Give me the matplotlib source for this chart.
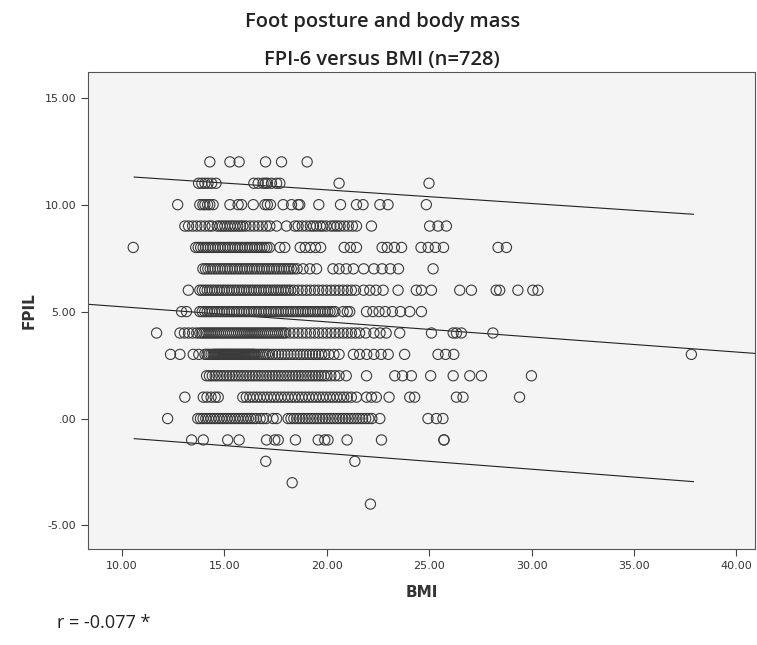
import matplotlib
matplotlib.use("Agg")
import matplotlib.pyplot as plt

# BMI values, one list per FPI score (FPIL is whole numbers)
bmi_fpi_12 = [14.29, 15.27, 15.72, 17.01, 17.79, 19.04]
bmi_fpi_11 = [13.74, 13.90, 14.05, 14.20, 14.38, 14.59, 16.44, 16.65, 16.89, 17.00,
              17.10, 17.30, 17.55, 17.71, 20.60, 24.99]
bmi_fpi_10 = [12.72, 13.80, 13.95, 14.05, 14.18, 14.29, 14.45, 15.27, 15.67, 15.84,
              16.41, 16.98, 17.10, 17.25, 17.87, 18.28, 18.60, 18.68, 19.61, 20.67,
              21.45, 21.77, 22.59, 22.99, 24.86]
bmi_fpi_9 = [13.07, 13.25, 13.45, 13.65, 13.85, 14.05, 14.25, 14.40, 14.65, 14.78,
             14.90, 15.02, 15.15, 15.28, 15.40, 15.52, 15.65, 15.78, 15.90, 16.05,
             16.25, 16.45, 16.65, 16.85, 17.05, 17.22, 17.55, 18.03, 18.44, 18.60,
             18.80, 19.00, 19.20, 19.35, 19.50, 19.68, 19.80, 19.98, 20.20, 20.35,
             20.50, 20.65, 20.85, 21.05, 21.25, 21.45, 22.18, 25.02, 25.43, 25.84]
bmi_fpi_8 = [10.55, 13.60, 13.72, 13.84, 13.96, 14.08, 14.20, 14.32, 14.44, 14.56,
             14.68, 14.80, 14.92, 15.04, 15.16, 15.28, 15.40, 15.52, 15.64, 15.76,
             15.88, 16.00, 16.12, 16.24, 16.36, 16.48, 16.60, 16.72, 16.84, 16.96,
             17.08, 17.20, 17.71, 17.95, 18.70, 18.95, 19.20, 19.45, 19.70, 20.85,
             21.15, 21.45, 22.70, 22.95, 23.30, 23.65, 24.60, 24.95, 25.30, 25.70,
             28.36, 28.77]
bmi_fpi_7 = [13.95, 14.07, 14.19, 14.31, 14.43, 14.55, 14.67, 14.79, 14.91, 15.03,
             15.15, 15.27, 15.39, 15.51, 15.63, 15.75, 15.87, 15.99, 16.11, 16.23,
             16.35, 16.47, 16.59, 16.71, 16.83, 16.95, 17.07, 17.19, 17.31, 17.43,
             17.55, 17.67, 17.79, 17.91, 18.03, 18.15, 18.27, 18.40, 18.55, 18.84,
             19.17, 19.50, 20.30, 20.60, 20.95, 21.30, 21.80, 22.30, 22.70, 23.10,
             23.50, 25.19]
bmi_fpi_6 = [13.24, 13.80, 13.92, 14.04, 14.16, 14.28, 14.40, 14.52, 14.64, 14.76,
             14.88, 15.00, 15.12, 15.24, 15.36, 15.48, 15.60, 15.72, 15.84, 15.96,
             16.08, 16.20, 16.32, 16.44, 16.56, 16.68, 16.80, 16.92, 17.04, 17.16,
             17.28, 17.40, 17.52, 17.64, 17.76, 17.88, 18.00, 18.12, 18.24, 18.40,
             18.60, 18.80, 19.00, 19.20, 19.40, 19.60, 19.80, 20.00, 20.20, 20.40,
             20.60, 20.80, 21.00, 21.20, 21.40, 21.80, 22.10, 22.40, 22.75, 23.48,
             24.37, 24.62, 25.11, 26.49, 27.06, 28.27, 28.44, 29.33, 30.06, 30.31]
bmi_fpi_5 = [12.91, 13.15, 13.80, 13.92, 14.04, 14.16, 14.28, 14.40, 14.52, 14.64,
             14.76, 14.88, 15.00, 15.12, 15.24, 15.36, 15.48, 15.60, 15.72, 15.84,
             15.96, 16.08, 16.20, 16.32, 16.44, 16.56, 16.68, 16.80, 16.92, 17.04,
             17.16, 17.28, 17.40, 17.52, 17.64, 17.76, 17.88, 18.00, 18.12, 18.24,
             18.36, 18.48, 18.60, 18.72, 18.84, 18.96, 19.08, 19.20, 19.32, 19.44,
             19.56, 19.68, 19.80, 19.92, 20.04, 20.16, 20.28, 20.40, 20.80, 21.00,
             21.12, 21.94, 22.25, 22.55, 22.85, 23.20, 23.60, 24.05, 24.62]
bmi_fpi_4 = [11.69, 12.83, 13.05, 13.25, 13.45, 13.65, 13.80, 13.90, 14.00, 14.10,
             14.20, 14.30, 14.40, 14.50, 14.60, 14.70, 14.80, 14.90, 15.00, 15.10,
             15.20, 15.30, 15.40, 15.50, 15.60, 15.70, 15.80, 15.90, 16.00, 16.10,
             16.20, 16.30, 16.40, 16.50, 16.60, 16.70, 16.80, 16.90, 17.00, 17.10,
             17.20, 17.30, 17.40, 17.50, 17.60, 17.70, 17.80, 17.90, 18.00, 18.20,
             18.40, 18.60, 18.80, 19.00, 19.20, 19.40, 19.60, 19.80, 20.00, 20.20,
             20.40, 20.60, 20.80, 21.00, 21.20, 21.40, 21.60, 21.90, 22.30, 22.60,
             22.90, 23.56, 25.11, 26.17, 26.33, 26.57, 28.11]
bmi_fpi_3 = [12.37, 12.83, 13.48, 13.75, 14.05, 14.15, 14.25, 14.35, 14.45, 14.50,
             14.55, 14.60, 14.65, 14.70, 14.75, 14.80, 14.85, 14.90, 14.95, 15.00,
             15.05, 15.10, 15.15, 15.20, 15.25, 15.30, 15.35, 15.40, 15.45, 15.50,
             15.55, 15.60, 15.65, 15.70, 15.75, 15.80, 15.85, 15.90, 15.95, 16.00,
             16.05, 16.10, 16.15, 16.20, 16.25, 16.30, 16.35, 16.40, 16.45, 16.50,
             16.60, 16.70, 16.80, 16.90, 17.00, 17.10, 17.20, 17.35, 17.50, 17.65,
             17.80, 17.95, 18.10, 18.25, 18.40, 18.55, 18.70, 18.85, 19.00, 19.15,
             19.30, 19.45, 19.60, 19.75, 19.90, 20.10, 20.35, 20.60, 21.30, 21.60,
             21.95, 22.30, 22.65, 23.00, 23.80, 25.43, 25.80, 26.20, 37.80]
bmi_fpi_2 = [14.13, 14.27, 14.41, 14.55, 14.69, 14.83, 14.97, 15.11, 15.25, 15.39,
             15.53, 15.67, 15.81, 15.95, 16.09, 16.23, 16.37, 16.51, 16.65, 16.79,
             16.93, 17.07, 17.21, 17.35, 17.49, 17.63, 17.77, 17.91, 18.05, 18.19,
             18.33, 18.47, 18.61, 18.75, 18.89, 19.03, 19.17, 19.31, 19.45, 19.59,
             19.73, 19.87, 20.01, 20.20, 20.40, 20.60, 20.95, 21.94, 23.32, 23.70,
             24.13, 25.07, 26.17, 26.98, 27.55, 29.99]
bmi_fpi_1 = [13.07, 13.97, 14.15, 14.35, 14.55, 14.70, 15.90, 16.07, 16.24, 16.41,
             16.58, 16.75, 16.92, 17.09, 17.26, 17.43, 17.60, 17.77, 17.94, 18.11,
             18.28, 18.45, 18.62, 18.79, 18.96, 19.13, 19.30, 19.47, 19.64, 19.81,
             19.98, 20.15, 20.32, 20.49, 20.66, 20.83, 21.00, 21.20, 21.45, 21.94,
             22.18, 22.42, 23.04, 24.05, 24.29, 26.33, 26.65, 29.41]
bmi_fpi_0 = [12.23, 13.70, 13.83, 13.96, 14.09, 14.22, 14.35, 14.48, 14.61, 14.74,
             14.87, 15.00, 15.13, 15.26, 15.39, 15.52, 15.65, 15.78, 15.91, 16.04,
             16.17, 16.30, 16.43, 16.56, 16.75, 16.90, 17.05, 17.38, 17.55, 18.11,
             18.25, 18.39, 18.53, 18.67, 18.81, 18.95, 19.09, 19.23, 19.37, 19.51,
             19.65, 19.79, 19.93, 20.07, 20.21, 20.35, 20.49, 20.63, 20.77, 20.91,
             21.05, 21.19, 21.33, 21.47, 21.61, 21.75, 21.90, 22.05, 22.20, 22.59,
             24.94, 25.35, 25.67]
bmi_fpi_m1 = [13.40, 13.97, 15.16, 15.72, 17.06, 17.46, 17.63, 18.47, 19.58, 19.90,
              20.06, 20.99, 22.67, 25.72, 25.72]
bmi_fpi_m2 = [17.02, 21.37]
bmi_fpi_m3 = [18.31]
bmi_fpi_m4 = [22.13]

rows = {12: bmi_fpi_12, 11: bmi_fpi_11, 10: bmi_fpi_10, 9: bmi_fpi_9, 8: bmi_fpi_8,
        7: bmi_fpi_7, 6: bmi_fpi_6, 5: bmi_fpi_5, 4: bmi_fpi_4, 3: bmi_fpi_3,
        2: bmi_fpi_2, 1: bmi_fpi_1, 0: bmi_fpi_0, -1: bmi_fpi_m1, -2: bmi_fpi_m2,
        -3: bmi_fpi_m3, -4: bmi_fpi_m4}

# regression line and 95% individual interval
fit_intercept = 5.93
fit_slope = -0.0705
ci_x = [10.6, 37.9]
ci_upper = [11.29, 9.55]
ci_lower = [-0.94, -2.95]

x_ticks = [10, 15, 20, 25, 30, 35, 40]
y_ticks = [-5, 0, 5, 10, 15]
y_tick_labels = ["-5.00", ".00", "5.00", "10.00", "15.00"]

bmi = []
fpi = []
for score, values in rows.items():
    bmi += values
    fpi += [score] * len(values)

fig = plt.figure(figsize=(7.57, 6.45), dpi=100)
ax = fig.add_axes([0.1162, 0.1488, 0.881, 0.7395])
ax.set_facecolor("#f4f4f4")

ax.scatter(bmi, fpi, s=54, facecolors="none", edgecolors="#3a3a3a", linewidths=0.8, zorder=3)

xlim = (8.34, 40.9)
ax.plot(xlim, [fit_intercept + fit_slope * x for x in xlim], color="#222222", lw=0.8, zorder=2)
ax.plot(ci_x, ci_upper, color="#222222", lw=0.8, zorder=2)
ax.plot(ci_x, ci_lower, color="#222222", lw=0.8, zorder=2)

ax.set_xlim(*xlim)
ax.set_ylim(-6.1, 16.2)
ax.set_xticks(x_ticks)
ax.set_xticklabels([f"{t:.2f}" for t in x_ticks])
ax.set_yticks(y_ticks)
ax.set_yticklabels(y_tick_labels)
ax.tick_params(direction="out", length=5, width=0.8, colors="#444444", labelsize=8, labelcolor="#333333")

for s in ax.spines.values():
    s.set_color("#555555")
    s.set_linewidth(0.8)

ax.set_xlabel("BMI", fontsize=11, fontweight="bold", color="#333333", labelpad=10)
ax.set_ylabel("FPIL", fontsize=11, fontweight="bold", color="#333333", labelpad=6)

title_font = ["Open Sans", "DejaVu Sans"]
fig.text(0.505, 0.966, "Foot posture and body mass", ha="center", va="center",
         fontsize=14.5, fontweight="semibold", family=title_font, color="#222222")
fig.text(0.505, 0.907, "FPI-6 versus BMI (n=728)", ha="center", va="center",
         fontsize=14.5, fontweight="semibold", family=title_font, color="#222222")
fig.text(0.075, 0.02, "r = -0.077 *", ha="left", va="bottom", fontsize=13,
         family=["Open Sans", "DejaVu Sans"], color="#222222")

fig.savefig("out.png", dpi=100)
